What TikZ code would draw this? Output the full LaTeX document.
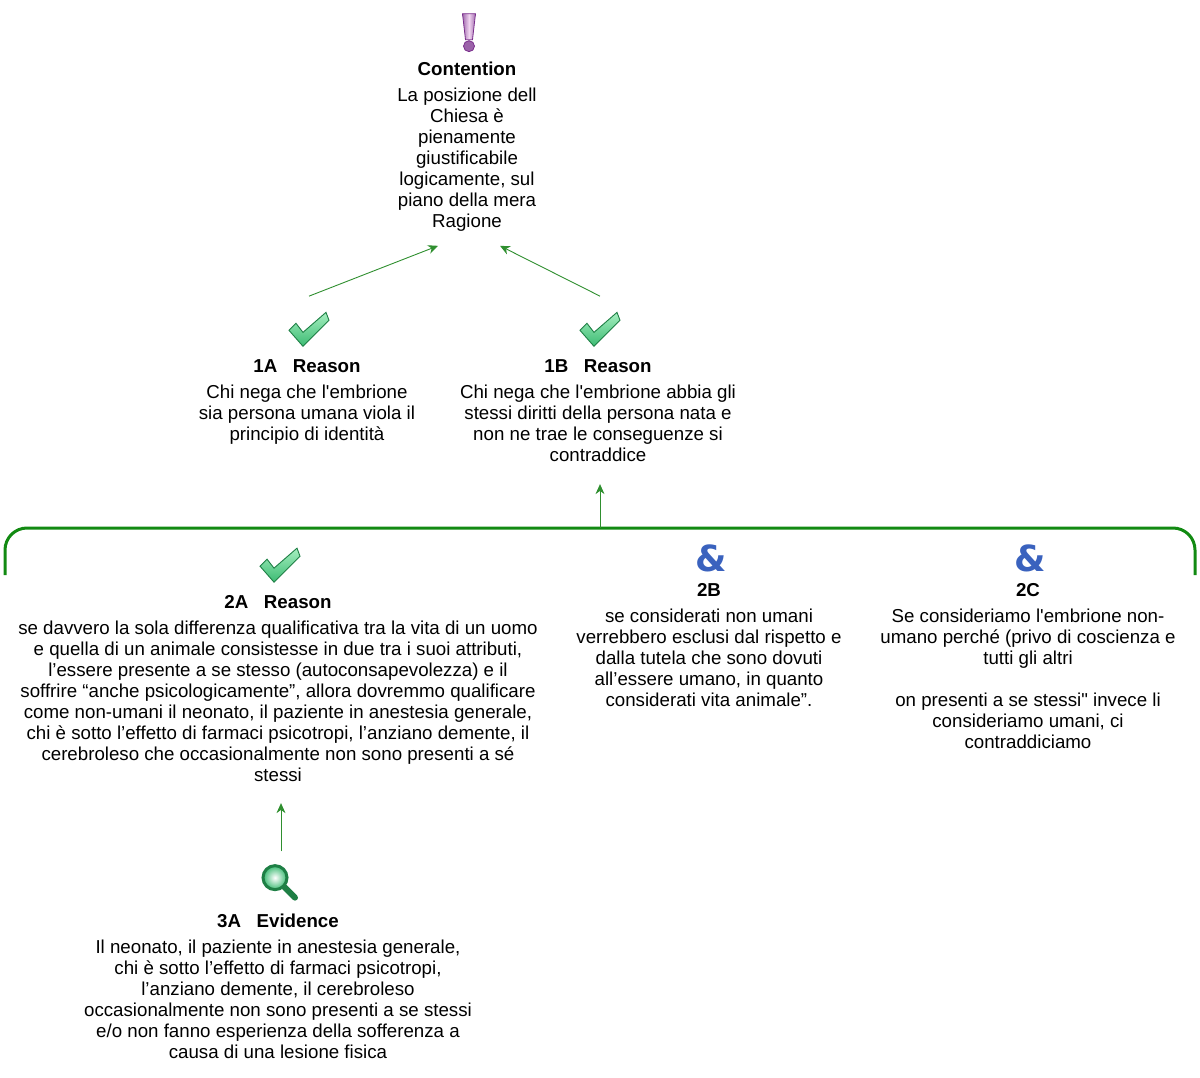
\documentclass[tikz,border=0pt]{standalone}
\usepackage{fontspec}
\setmainfont[Ligatures=TeXOff]{Liberation Sans}
\newfontfamily\ampfont{DejaVu Sans}
\usetikzlibrary{arrows.meta, positioning}
\definecolor{MapGreen}{HTML}{128A12}
\definecolor{ArrowGreen}{HTML}{2F8F2F}
\definecolor{TickLine}{HTML}{1E7F45}
\definecolor{TickLight}{HTML}{A6EFC0}
\definecolor{TickDark}{HTML}{3CBB73}
\definecolor{PurpleLine}{HTML}{7A2E8C}
\definecolor{PurpleLight}{HTML}{F0D4F0}
\definecolor{AmpBlue}{HTML}{3A62BE}
\tikzset{
    % Claim text
    body/.style={
        anchor=north,
        align=center,
        inner sep=0pt,
        font=\fontsize{18.7}{21}\selectfont
    },
    % Heading above the text
    title/.style={
        align=center,
        inner sep=0pt,
        font=\fontsize{18.7}{21}\selectfont\bfseries
    },
    % Room for a drawn icon
    iconbox/.style={
        minimum width=40pt,
        minimum height=34pt,
        inner sep=0pt
    },
    % Ampersand icon
    ampicon/.style={
        inner sep=0pt,
        text=AmpBlue,
        font=\fontsize{36}{36}\ampfont\bfseries
    },
    % Arrow style
    arrow/.style={
        -{Stealth[length=10pt,width=9pt]},
        line width=0.9pt,
        color=ArrowGreen
    },
    % Group bracket
    bracket/.style={
        line width=3pt,
        color=MapGreen,
        rounded corners=22pt
    },
    tickmark/.pic={
        \draw[draw=TickLine, line width=0.9pt, top color=TickLight, bottom color=TickDark]
            (-20,1) -- (-13,-6) -- (-6,3) -- (17,-17) -- (20,-9) -- (-6,17) -- cycle;
    },
    bangmark/.pic={
        \draw[draw=PurpleLine, line width=0.8pt, left color=PurpleLine!70, right color=PurpleLine!70, middle color=PurpleLight]
            (-6.5,-18) -- (6.5,-18) -- (3.5,8) -- (-3.5,8) -- cycle;
        \draw[draw=PurpleLine, line width=0.8pt, fill=PurpleLine!75] (0,14.5) circle (5.5);
    },
    lensmark/.pic={
        \draw[line width=6pt, color=TickLine, line cap=round] (3,2) -- (15,14);
        \draw[draw=TickLine, line width=3pt, inner color=white, outer color=TickDark] (-5,-6) circle (12);
    }
}

\begin{document}
\begin{tikzpicture}[x=1pt, y=-1pt, node distance=12pt]
    \useasboundingbox (0,0) rectangle (1200,1078);

    % Contention
    \node (body0) [body] at (467,88) {La posizione dell\\Chiesa è\\pienamente\\giustificabile\\logicamente, sul\\piano della mera\\Ragione};
    \node (title0) [title, above=of body0] {Contention};
    \node (bang0) [iconbox, above=13pt of title0, xshift=2pt] {};
    \pic at (bang0) {bangmark};

    % First row
    \node (body1a) [body] at (307,385) {Chi nega che l'embrione\\sia persona umana viola il\\principio di identità};
    \node (title1a) [title, above=of body1a] {1A\ \ \ Reason};
    \node (tick1a) [iconbox, above=13pt of title1a, xshift=2pt] {};
    \pic at (tick1a) {tickmark};

    \node (body1b) [body] at (598,385) {Chi nega che l'embrione abbia gli\\stessi diritti della persona nata e\\non ne trae le conseguenze si\\contraddice};
    \node (title1b) [title, above=of body1b] {1B\ \ \ Reason};
    \node (tick1b) [iconbox, above=13pt of title1b, xshift=2pt] {};
    \pic at (tick1b) {tickmark};

    % Second row
    \node (body2a) [body] at (278,621) {se davvero la sola differenza qualificativa tra la vita di un uomo\\e quella di un animale consistesse in due tra i suoi attributi,\\l’essere presente a se stesso (autoconsapevolezza) e il\\soffrire “anche psicologicamente”, allora dovremmo qualificare\\come non-umani il neonato, il paziente in anestesia generale,\\chi è sotto l’effetto di farmaci psicotropi, l’anziano demente, il\\cerebroleso che occasionalmente non sono presenti a sé\\stessi};
    \node (title2a) [title, above=of body2a] {2A\ \ \ Reason};
    \node (tick2a) [iconbox, above=13pt of title2a, xshift=2pt] {};
    \pic at (tick2a) {tickmark};

    \node (body2b) [body] at (709,609) {se considerati non umani\\verrebbero esclusi dal rispetto e\\dalla tutela che sono dovuti\\all’essere umano, in quanto\\considerati vita animale”.};
    \node (title2b) [title, above=of body2b] {2B};
    \node (amp2b) [ampicon, above=11pt of title2b, xshift=2pt] {\&};

    \node (body2c) [body] at (1028,609) {Se consideriamo l'embrione non-\\umano perché (privo di coscienza e\\tutti gli altri\\[21pt]on presenti a se stessi" invece li\\consideriamo umani, ci\\contraddiciamo};
    \node (title2c) [title, above=of body2c] {2C};
    \node (amp2c) [ampicon, above=11pt of title2c, xshift=2pt] {\&};

    % Third row
    \node (body3a) [body] at (278,940) {Il neonato, il paziente in anestesia generale,\\chi è sotto l’effetto di farmaci psicotropi,\\l’anziano demente, il cerebroleso\\occasionalmente non sono presenti a se stessi\\e/o non fanno esperienza della sofferenza a\\causa di una lesione fisica};
    \node (title3a) [title, above=of body3a] {3A\ \ \ Evidence};
    \node (lens3a) [iconbox, above=13pt of title3a, xshift=2pt] {};
    \pic at (lens3a) {lensmark};

    % Bracket over the second row
    \coordinate (brL) at (5,575);
    \coordinate (brR) at (1195,575);
    \coordinate (brT) at (600,528);
    \draw[bracket] (brL) |- (brT) -| (brR);

    % Arrows
    \draw[arrow] ([yshift=16pt]tick1a.north) -- ([xshift=-29pt,yshift=-14pt]body0.south);
    \draw[arrow] ([yshift=16pt]tick1b.north) -- ([xshift=33pt,yshift=-14pt]body0.south);
    \draw[arrow] (brT) -- ([yshift=-22pt,xshift=2pt]body1b.south);
    \draw[arrow] ([yshift=15pt,xshift=1pt]lens3a.north) -- ([yshift=-21pt,xshift=3pt]body2a.south);
\end{tikzpicture}
\end{document}
